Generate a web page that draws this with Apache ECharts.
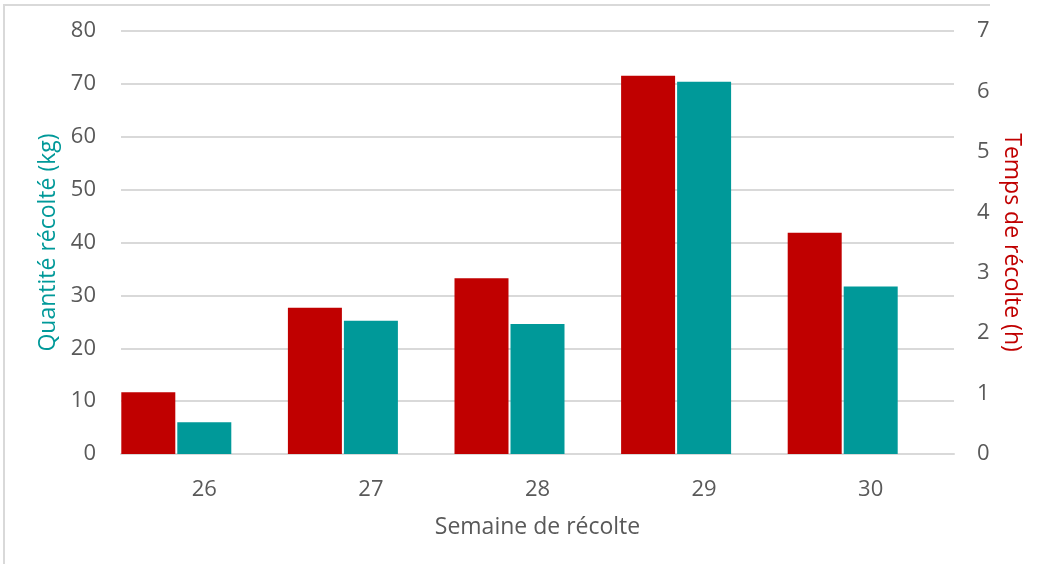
<!DOCTYPE html>
<html><head><meta charset="utf-8">
<script src="https://cdn.jsdelivr.net/npm/echarts@6/dist/echarts.min.js"></script>
<style>html,body{margin:0;padding:0;background:#fff}#c{width:1042px;height:564px}</style>
</head><body><div id="c"></div>
<script>
var categories = ['26','27','28','29','30'];
var tempsHeures = [1.02, 2.42, 2.91, 6.26, 3.66];
var quantiteKg = [6.0, 25.2, 24.6, 70.4, 31.7];
var leftTicks = [0,10,20,30,40,50,60,70,80];
var rightTicks = [0,1,2,3,4,5,6,7];

var FONT = '"Open Sans","Noto Sans",sans-serif';
var chart = echarts.init(document.getElementById('c'), null, {renderer:'canvas'});
chart.setOption({
  animation:false,
  backgroundColor:'#fff',
  graphic:[{type:'polyline',shape:{points:[[4,564],[4,5],[990,5]]},style:{stroke:'#d9d9d9',lineWidth:2,fill:null}}],
  grid:{left:121,right:88,top:31,bottom:110},
  xAxis:{type:'category',data:categories,
    axisLine:{lineStyle:{color:'#d9d9d9',width:2}},axisTick:{show:false},
    axisLabel:{color:'#595959',fontSize:22,fontFamily:FONT,margin:25},
    name:'Semaine de récolte',nameLocation:'middle',nameGap:62,
    nameTextStyle:{color:'#595959',fontSize:23,fontFamily:FONT}},
  yAxis:[{type:'value',min:leftTicks[0],max:leftTicks[leftTicks.length-1],interval:10,
    axisLine:{show:false},axisTick:{show:false},
    splitLine:{lineStyle:{color:'#d9d9d9',width:2}},
    axisLabel:{color:'#595959',fontSize:22,fontFamily:FONT,margin:25},
    name:'Quantité récolté (kg)',nameLocation:'middle',nameGap:60,nameRotate:90,
    nameTextStyle:{color:'#009999',fontSize:23,fontFamily:FONT}},
   {type:'value',min:rightTicks[0],max:rightTicks[rightTicks.length-1],interval:1,
    axisLine:{show:false},axisTick:{show:false},splitLine:{show:false},
    axisLabel:{color:'#595959',fontSize:22,fontFamily:FONT,margin:23},
    name:'Temps de récolte (h)',nameLocation:'middle',nameGap:45,nameRotate:-90,
    nameTextStyle:{color:'#c00000',fontSize:23,fontFamily:FONT}}],
  series:[
    {type:'bar',name:'Temps',yAxisIndex:1,data:tempsHeures,barWidth:54,barGap:'3.7%',barCategoryGap:0,
     itemStyle:{color:'#c00000'}},
    {type:'bar',name:'Quantité',yAxisIndex:0,data:quantiteKg,barWidth:54,
     itemStyle:{color:'#009999'}},
    {type:'bar',name:'',yAxisIndex:0,data:[],barWidth:54}
  ]
});
</script></body></html>
